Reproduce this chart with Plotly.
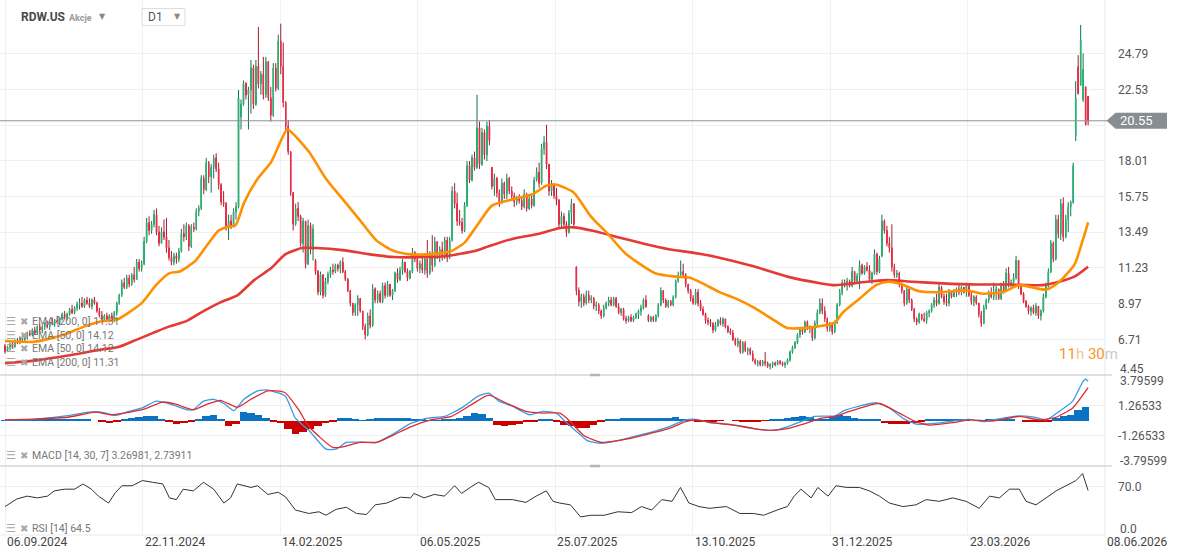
import plotly.graph_objects as go

# ---------------- DATA ----------------
date_labels = ["06.09.2024", "22.11.2024", "14.02.2025", "06.05.2025", "25.07.2025",
               "13.10.2025", "31.12.2025", "23.03.2026", "08.06.2026"]

opens = [
 6.3, 5.95, 6.2, 6.4, 6.25, 6.6, 6.5, 6.8, 6.7, 6.9,
 7.1, 7.0, 7.3, 7.1, 7.5, 7.3, 7.5, 7.6, 7.5, 7.8,
 7.7, 7.9, 7.8, 8.0, 8.3, 8.1, 8.3, 8.6, 8.4, 8.7,
 8.9, 9.0, 8.8, 9.2, 9.0, 8.8, 9.2, 9.0, 8.5, 8.2,
 8.0, 8.2, 7.9, 8.2, 8.0, 8.4, 9.0, 9.5, 10.3, 10.0,
 10.6, 10.2, 10.8, 10.5, 11.6, 11.2, 11.5, 12.9, 14.1, 13.6,
 14.0, 14.6, 13.5, 12.8, 13.5, 13.2, 12.5, 11.9, 11.6, 12.0,
 11.8, 12.3, 13.4, 13.2, 13.9, 12.6, 13.8, 13.7, 14.8, 15.0,
 16.9, 16.2, 17.9, 17.0, 17.6, 18.2, 17.5, 16.5, 15.4, 15.3,
 13.8, 14.2, 13.9, 14.8, 15.1, 20.8, 21.6, 22.9, 22.2, 22.5,
 23.9, 21.6, 24.0, 22.9, 23.5, 22.2, 24.3, 22.0, 20.9, 23.9,
 22.6, 25.6, 24.0, 21.7, 20.2, 18.6, 16.0, 14.0, 15.0, 14.5,
 12.8, 14.2, 11.5, 13.9, 12.4, 11.7, 11.0, 9.7, 10.8, 9.5,
 10.4, 10.8, 11.1, 11.0, 11.4, 11.2, 11.6, 11.0, 10.5, 9.8,
 9.0, 8.4, 8.9, 9.3, 8.5, 7.5, 7.0, 8.2, 7.6, 9.9,
 9.2, 9.6, 9.1, 10.1, 9.5, 10.2, 9.5, 9.8, 10.9, 10.5,
 11.1, 11.6, 11.0, 10.6, 11.0, 12.2, 11.8, 11.2, 11.5, 11.1,
 11.8, 10.9, 12.1, 11.4, 12.9, 12.1, 12.4, 12.0, 13.0, 11.9,
 13.0, 16.1, 15.3, 14.2, 14.1, 13.6, 15.2, 17.7, 16.8, 18.2,
 17.6, 20.1, 17.8, 19.8, 18.4, 20.2, 17.6, 16.4, 16.9, 16.0,
 15.4, 16.6, 15.9, 16.9, 16.1, 15.8, 15.4, 15.6, 15.5, 15.1,
 15.9, 15.0, 15.6, 15.2, 16.8, 17.3, 16.6, 18.8, 19.2, 17.8,
 16.1, 16.5, 15.8, 15.5, 14.0, 14.5, 14.0, 13.5, 14.7, 15.3,
 11.3, 9.8, 9.1, 9.4, 9.0, 9.5, 9.2, 9.3, 8.8, 8.9,
 8.5, 8.2, 8.7, 9.0, 9.2, 8.9, 9.3, 8.8, 8.4, 8.6,
 8.0, 7.9, 8.1, 7.9, 8.1, 8.3, 8.5, 8.7, 9.2, 8.2,
 7.9, 8.1, 7.9, 8.2, 8.9, 9.8, 9.2, 8.8, 9.1, 8.9,
 9.4, 10.4, 10.8, 11.0, 10.8, 10.2, 9.8, 9.3, 9.0, 9.7,
 9.0, 8.6, 8.3, 7.9, 7.8, 7.7, 7.3, 7.6, 7.9, 7.7,
 8.0, 7.5, 7.2, 7.1, 6.7, 6.4, 6.6, 5.9, 6.5, 6.0,
 6.1, 5.8, 5.4, 5.2, 5.3, 5.1, 5.3, 5.2, 5.0, 5.1,
 5.2, 5.1, 5.3, 5.2, 5.1, 5.2, 5.4, 5.9, 6.2, 6.5,
 7.0, 7.3, 7.2, 7.8, 7.4, 7.5, 6.8, 7.7, 8.4, 9.0,
 8.5, 8.0, 7.4, 7.7, 7.2, 7.8, 8.9, 9.7, 10.3, 10.2,
 10.4, 10.1, 11.0, 10.4, 10.7, 11.4, 10.9, 11.3, 11.1, 10.5,
 10.9, 12.1, 11.0, 12.0, 14.2, 13.6, 12.8, 12.5, 11.3, 10.8,
 10.9, 10.2, 9.8, 9.0, 9.9, 9.2, 8.6, 8.0, 7.8, 8.3,
 8.0, 7.9, 8.4, 8.5, 8.9, 9.2, 9.0, 10.0, 9.4, 9.1,
 9.0, 9.7, 9.4, 9.8, 9.9, 9.7, 10.0, 9.7, 10.1, 9.5,
 9.1, 9.4, 9.0, 8.3, 7.7, 8.7, 9.2, 9.6, 9.4, 9.6,
 9.9, 9.3, 10.1, 9.8, 10.9, 10.2, 10.3, 10.6, 11.7, 10.2,
 9.6, 9.1, 8.8, 8.5, 8.7, 8.4, 8.8, 8.2, 8.5, 9.4,
 10.1, 11.0, 12.8, 11.8, 14.3, 13.4, 15.3, 13.2, 14.3, 15.1,
 15.4, 19.6, 23.97, 22.8, 21.9, 22.7, 22.1]

highs = [
 6.4, 6.3, 6.5, 6.6, 6.7, 6.8, 6.9, 7.0, 7.0, 7.2,
 7.3, 7.4, 7.5, 7.6, 7.7, 7.6, 7.8, 7.9, 7.9, 8.1,
 8.0, 8.2, 8.1, 8.4, 8.5, 8.4, 8.7, 8.9, 8.8, 9.1,
 9.3, 9.4, 9.3, 9.4, 9.3, 9.3, 9.4, 9.1, 8.7, 8.5,
 8.3, 8.4, 8.3, 8.4, 8.5, 9.1, 9.6, 10.5, 10.6, 10.8,
 10.8, 10.9, 11.3, 11.8, 11.8, 11.7, 13.2, 14.4, 14.5, 14.2,
 14.9, 15.0, 13.9, 13.8, 14.3, 14.4, 13.0, 12.3, 12.2, 12.2,
 12.5, 13.7, 14.0, 14.1, 14.0, 14.0, 14.1, 15.0, 15.2, 17.1,
 17.1, 18.2, 18.0, 17.8, 18.4, 18.5, 17.9, 16.6, 16.1, 15.4,
 14.6, 14.6, 15.0, 15.4, 22.5, 21.9, 23.1, 23.0, 22.7, 24.4,
 24.1, 24.4, 26.5, 23.7, 24.6, 24.6, 24.3, 22.7, 24.2, 24.2,
 26.0, 26.7, 25.5, 21.8, 20.6, 18.6, 16.0, 15.3, 15.4, 14.6,
 14.4, 14.2, 14.3, 14.1, 14.0, 11.8, 11.1, 11.0, 10.8, 10.6,
 11.0, 11.3, 11.5, 11.5, 11.5, 11.7, 11.9, 11.1, 10.6, 9.8,
 9.0, 9.0, 9.5, 9.3, 8.5, 7.7, 8.4, 8.6, 10.2, 10.0,
 9.8, 9.8, 10.3, 10.3, 10.4, 10.2, 9.9, 11.0, 11.2, 11.3,
 11.8, 11.6, 11.2, 11.1, 12.5, 12.3, 12.0, 11.7, 12.0, 12.0,
 13.0, 12.3, 13.3, 13.2, 12.9, 12.6, 12.9, 13.2, 13.2, 13.2,
 16.4, 16.6, 16.0, 14.9, 14.4, 15.4, 18.0, 18.0, 18.4, 18.6,
 22.2, 20.5, 20.1, 20.0, 20.5, 20.6, 17.6, 17.2, 17.0, 16.2,
 16.9, 16.7, 17.2, 17.0, 16.4, 16.0, 15.8, 15.9, 15.7, 16.2,
 16.0, 15.8, 15.9, 17.0, 17.6, 17.9, 19.1, 19.6, 20.3, 17.8,
 16.8, 16.6, 16.3, 15.6, 14.8, 14.7, 14.2, 14.9, 15.6, 15.3,
 11.3, 10.0, 9.6, 9.6, 9.8, 9.8, 9.5, 9.4, 9.1, 9.0,
 8.6, 8.9, 9.1, 9.4, 9.4, 9.4, 9.4, 9.0, 8.7, 8.7,
 8.2, 8.2, 8.3, 8.2, 8.4, 8.6, 8.9, 9.3, 9.5, 8.3,
 8.2, 8.2, 8.3, 9.0, 10.0, 9.8, 9.3, 9.2, 9.2, 9.5,
 10.5, 11.0, 11.7, 11.5, 10.9, 10.2, 9.9, 9.5, 9.9, 9.9,
 9.2, 8.8, 8.4, 8.1, 8.0, 7.8, 7.8, 8.0, 8.1, 8.1,
 8.0, 7.6, 7.4, 7.3, 6.8, 6.8, 6.7, 6.6, 6.6, 6.2,
 6.2, 6.0, 5.5, 5.4, 5.4, 5.4, 5.9, 5.3, 5.2, 5.3,
 5.3, 5.4, 5.4, 5.3, 5.3, 5.5, 6.0, 6.3, 6.6, 7.1,
 7.5, 7.5, 7.9, 7.9, 7.6, 7.5, 7.9, 8.6, 9.3, 9.3,
 8.8, 8.1, 7.8, 7.8, 7.9, 9.0, 9.9, 10.5, 10.5, 10.6,
 10.5, 11.3, 11.0, 10.9, 11.7, 11.5, 11.4, 11.6, 11.4, 11.0,
 12.4, 12.2, 12.0, 14.6, 14.3, 13.9, 13.2, 14.0, 11.5, 11.1,
 11.0, 10.3, 9.8, 10.1, 10.0, 9.3, 8.7, 8.1, 8.4, 8.3,
 8.4, 8.5, 8.6, 9.0, 9.4, 9.6, 10.2, 10.1, 9.6, 9.6,
 9.9, 9.7, 9.9, 10.0, 10.2, 10.1, 10.0, 10.3, 10.1, 9.7,
 9.5, 9.5, 9.0, 8.5, 8.9, 9.3, 9.8, 10.0, 10.3, 10.1,
 9.9, 10.3, 10.4, 11.2, 11.3, 10.5, 10.9, 12.0, 11.7, 10.2,
 9.7, 9.2, 8.9, 8.8, 8.9, 9.0, 8.8, 8.6, 9.6, 10.3,
 11.2, 13.0, 12.9, 14.6, 14.6, 15.6, 15.7, 14.6, 15.4, 15.5,
 17.9, 23.06, 24.71, 26.62, 24.82, 22.7, 22.1]

lows = [
 5.8, 5.9, 6.0, 6.1, 6.2, 6.4, 6.4, 6.6, 6.5, 6.7,
 6.9, 6.9, 7.0, 7.0, 7.2, 7.1, 7.3, 7.4, 7.3, 7.6,
 7.5, 7.7, 7.6, 7.9, 8.0, 7.9, 8.2, 8.3, 8.3, 8.5,
 8.6, 8.7, 8.7, 8.9, 8.7, 8.6, 8.9, 8.4, 8.1, 7.9,
 7.8, 7.8, 7.8, 7.9, 7.8, 8.2, 8.9, 9.4, 9.9, 9.9,
 10.0, 10.1, 10.3, 10.5, 11.0, 11.0, 11.4, 12.8, 13.3, 13.4,
 13.8, 13.3, 12.6, 12.8, 13.0, 12.2, 11.7, 11.4, 11.4, 11.5,
 11.6, 12.2, 12.9, 13.0, 12.3, 12.5, 13.5, 13.6, 14.5, 14.9,
 15.9, 16.1, 16.6, 16.0, 16.9, 17.3, 16.2, 15.2, 15.1, 13.6,
 13.0, 13.7, 13.8, 14.3, 15.0, 20.0, 21.5, 21.9, 20.0, 21.0,
 21.3, 21.5, 22.6, 22.2, 21.9, 22.0, 21.8, 20.5, 20.8, 22.4,
 22.5, 23.5, 21.4, 19.9, 18.4, 15.8, 13.6, 13.9, 14.2, 12.6,
 12.2, 11.2, 11.4, 12.1, 11.7, 10.8, 9.5, 9.5, 9.3, 9.4,
 10.2, 10.6, 10.8, 10.9, 11.0, 10.9, 10.9, 10.4, 9.7, 8.8,
 8.2, 8.2, 8.2, 8.4, 7.3, 6.7, 6.9, 7.4, 7.5, 9.0,
 9.0, 9.0, 9.0, 9.3, 9.4, 9.4, 9.2, 9.7, 10.3, 10.4,
 10.8, 10.9, 10.4, 10.5, 10.9, 11.6, 11.0, 10.9, 10.9, 10.8,
 10.6, 10.8, 11.0, 11.3, 11.8, 11.6, 11.7, 11.8, 11.6, 11.8,
 12.9, 15.0, 13.9, 13.9, 13.4, 13.5, 15.1, 16.6, 16.7, 17.4,
 17.5, 17.5, 17.7, 18.1, 18.0, 19.0, 16.2, 15.8, 15.7, 15.1,
 15.3, 15.6, 15.6, 15.9, 15.5, 15.1, 15.2, 15.3, 14.9, 15.0,
 14.8, 14.9, 15.0, 15.1, 16.7, 16.3, 16.5, 18.4, 17.5, 15.8,
 15.8, 15.6, 15.2, 13.7, 13.7, 13.8, 13.2, 13.4, 14.0, 13.8,
 9.5, 8.8, 8.7, 8.8, 8.9, 9.0, 9.0, 8.6, 8.5, 8.3,
 8.0, 8.1, 8.6, 8.8, 8.8, 8.8, 8.7, 8.3, 8.2, 7.9,
 7.7, 7.8, 7.8, 7.8, 8.0, 8.0, 8.2, 8.6, 8.7, 7.8,
 7.8, 7.8, 7.8, 8.1, 8.8, 9.0, 8.7, 8.7, 8.8, 8.8,
 9.3, 10.3, 10.6, 10.6, 10.0, 9.6, 9.1, 8.9, 8.9, 8.8,
 8.5, 8.2, 7.7, 7.6, 7.5, 7.1, 7.2, 7.5, 7.6, 7.5,
 7.4, 7.1, 7.0, 6.6, 6.3, 6.2, 5.8, 5.8, 5.9, 5.7,
 5.7, 5.3, 5.1, 5.0, 5.0, 5.0, 5.0, 4.9, 4.8, 4.9,
 5.0, 5.1, 5.1, 5.0, 4.9, 5.1, 5.3, 5.8, 6.1, 6.4,
 6.8, 7.0, 7.1, 7.3, 7.1, 6.6, 6.7, 7.6, 8.3, 8.3,
 7.8, 7.2, 7.2, 7.0, 7.1, 7.7, 8.8, 9.5, 10.0, 9.8,
 10.0, 10.0, 10.2, 10.3, 9.9, 10.8, 10.8, 11.0, 10.3, 10.2,
 10.8, 10.8, 10.9, 11.9, 13.4, 12.6, 12.2, 11.0, 10.6, 10.6,
 10.0, 9.6, 8.8, 8.9, 9.0, 8.5, 7.8, 7.6, 7.7, 7.9,
 7.8, 7.7, 8.1, 8.4, 8.7, 8.8, 8.9, 9.3, 8.9, 8.8,
 8.8, 9.3, 9.4, 9.4, 9.5, 9.5, 9.6, 9.4, 9.4, 8.9,
 8.8, 8.9, 8.1, 7.5, 7.7, 8.6, 9.0, 9.3, 9.2, 9.2,
 9.2, 9.2, 9.6, 9.7, 10.0, 9.9, 10.0, 10.5, 9.9, 9.5,
 9.0, 8.7, 8.3, 8.2, 8.3, 8.2, 8.0, 7.9, 8.4, 9.3,
 10.0, 10.9, 11.6, 11.7, 13.1, 13.0, 12.9, 13.1, 13.5, 14.5,
 15.3, 19.27, 22.2, 22.8, 21.75, 20.27, 20.27]

closes = [
 5.95, 6.2, 6.4, 6.25, 6.6, 6.5, 6.8, 6.7, 6.9, 7.1,
 7.0, 7.3, 7.1, 7.5, 7.3, 7.5, 7.6, 7.5, 7.8, 7.7,
 7.9, 7.8, 8.0, 8.3, 8.1, 8.3, 8.6, 8.4, 8.7, 8.9,
 9.0, 8.8, 9.2, 9.0, 8.8, 9.2, 9.0, 8.5, 8.2, 8.0,
 8.2, 7.9, 8.2, 8.0, 8.4, 9.0, 9.5, 10.3, 10.0, 10.6,
 10.2, 10.8, 10.5, 11.6, 11.2, 11.5, 12.9, 14.1, 13.6, 14.0,
 14.6, 13.5, 12.8, 13.5, 13.2, 12.5, 11.9, 11.6, 12.0, 11.8,
 12.3, 13.4, 13.2, 13.9, 12.6, 13.8, 13.7, 14.8, 15.0, 16.9,
 16.2, 17.9, 17.0, 17.6, 18.2, 17.5, 16.5, 15.4, 15.3, 13.8,
 14.2, 13.9, 14.8, 15.1, 22.0, 21.6, 22.9, 22.2, 22.5, 23.9,
 21.6, 24.0, 22.9, 23.5, 22.2, 24.3, 22.0, 20.9, 23.9, 22.6,
 25.6, 24.0, 21.7, 20.2, 18.6, 16.0, 14.0, 15.0, 14.5, 12.8,
 14.2, 11.5, 13.9, 12.4, 13.7, 11.0, 9.7, 10.8, 9.5, 10.4,
 10.8, 11.1, 11.0, 11.4, 11.2, 11.6, 11.0, 10.5, 9.8, 9.0,
 8.4, 8.9, 9.3, 8.5, 7.5, 7.0, 8.2, 7.6, 9.9, 9.2,
 9.6, 9.1, 10.1, 9.5, 10.2, 9.5, 9.8, 10.9, 10.5, 11.1,
 11.6, 11.0, 10.6, 11.0, 12.2, 11.8, 11.2, 11.5, 11.1, 11.8,
 10.9, 12.1, 11.4, 12.9, 12.1, 12.4, 12.0, 13.0, 11.9, 13.0,
 16.1, 15.3, 14.2, 14.1, 13.6, 15.2, 17.7, 16.8, 18.2, 17.6,
 20.1, 17.8, 19.8, 18.4, 20.2, 19.3, 16.4, 16.9, 16.0, 15.4,
 16.6, 15.9, 16.9, 16.1, 15.8, 15.4, 15.6, 15.5, 15.1, 15.9,
 15.0, 15.6, 15.2, 16.8, 17.3, 16.6, 18.8, 19.2, 17.8, 16.1,
 16.5, 15.8, 15.5, 14.0, 14.5, 14.0, 13.5, 14.7, 15.3, 14.0,
 9.8, 9.1, 9.4, 9.0, 9.5, 9.2, 9.3, 8.8, 8.9, 8.5,
 8.2, 8.7, 9.0, 9.2, 8.9, 9.3, 8.8, 8.4, 8.6, 8.0,
 7.9, 8.1, 7.9, 8.1, 8.3, 8.5, 8.7, 9.2, 8.8, 7.9,
 8.1, 7.9, 8.2, 8.9, 9.8, 9.2, 8.8, 9.1, 8.9, 9.4,
 10.4, 10.8, 11.0, 10.8, 10.2, 9.8, 9.3, 9.0, 9.7, 9.0,
 8.6, 8.3, 7.9, 7.8, 7.7, 7.3, 7.6, 7.9, 7.7, 8.0,
 7.5, 7.2, 7.1, 6.7, 6.4, 6.6, 5.9, 6.5, 6.0, 6.1,
 5.8, 5.4, 5.2, 5.3, 5.1, 5.3, 5.2, 5.0, 5.1, 5.2,
 5.1, 5.3, 5.2, 5.1, 5.2, 5.4, 5.9, 6.2, 6.5, 7.0,
 7.3, 7.2, 7.8, 7.4, 7.5, 6.8, 7.7, 8.4, 9.0, 8.5,
 8.0, 7.4, 7.7, 7.2, 7.8, 8.9, 9.7, 10.3, 10.2, 10.4,
 10.1, 11.0, 10.4, 10.7, 11.4, 10.9, 11.3, 11.1, 10.5, 10.9,
 12.1, 11.0, 11.8, 14.2, 13.6, 12.8, 12.5, 11.3, 10.8, 10.9,
 10.2, 9.8, 9.0, 9.9, 9.2, 8.6, 8.0, 7.8, 8.3, 8.0,
 7.9, 8.4, 8.5, 8.9, 9.2, 9.0, 10.0, 9.4, 9.1, 9.0,
 9.7, 9.4, 9.8, 9.9, 9.7, 10.0, 9.7, 10.1, 9.5, 9.1,
 9.4, 9.0, 8.3, 7.7, 8.7, 9.2, 9.6, 9.4, 9.6, 9.9,
 9.3, 10.1, 9.8, 10.9, 10.2, 10.3, 10.6, 11.7, 10.2, 9.6,
 9.1, 8.8, 8.5, 8.7, 8.4, 8.8, 8.2, 8.5, 9.4, 10.1,
 11.0, 12.8, 11.8, 14.3, 13.4, 15.3, 13.2, 14.3, 15.1, 15.4,
 17.7, 22.0, 22.3, 25.67, 23.8, 20.3, 20.55]

# EMA lines (candle number, value)
ema50_idx = [0, 11.6, 18.5, 25.3, 32.1, 38.9, 45.1, 49.8, 55.3, 60.8, 66.2, 70.3, 76.5, 81.2, 86, 89.4, 92.8,
             96.2, 101.7, 107.2, 113.5, 115.5, 122.3, 129.2, 136, 142.8, 149.6, 156.5, 163.3, 170.1, 176.9,
             179.7, 185.1, 190.6, 196, 204.2, 212.4, 217.9, 222, 229, 235.8, 242.6, 249.4, 254.9, 261.7,
             269.9, 275.4, 280.8, 287.6, 294.5, 301.3, 308.1, 314.9, 321.7, 327.2, 334, 337.2, 343.9, 350.6,
             355.3, 360, 368.1, 377.5, 386.9, 393.6, 401.6, 408.3, 419.1, 424.4, 430.5, 433.8, 436]
ema50_val = [6.6, 6.55, 6.77, 7.1, 7.53, 7.86, 7.96, 8.4, 9.05, 10.14, 10.9, 11.0, 11.66, 12.64, 13.6, 13.83, 13.94,
             15.35, 16.88, 17.96, 19.99, 19.8, 18.6, 16.88, 15.57, 14.27, 12.96, 12.31, 12.09, 12.09, 12.2,
             12.3, 12.85, 14.05, 15.18, 15.57, 15.9, 16.44, 16.5, 16.0, 14.5, 13.4, 12.2, 11.55, 10.9,
             10.68, 10.62, 10.25, 9.7, 9.27, 8.73, 8.07, 7.42, 7.42, 7.53, 7.75, 8.4, 9.27, 10.14,
             10.36, 10.25, 9.75, 9.7, 9.81, 9.6, 9.7, 10.14, 9.86, 10.36, 11.44, 12.96, 14.12]

ema200_idx = [0, 11.6, 25.3, 38.9, 45.7, 52.6, 59.4, 66.2, 73, 79.9, 86.7, 93.5, 100.3, 107.2, 112.8, 119.6,
              125.1, 136, 146.9, 156.5, 170.1, 178.3, 183.8, 189.2, 194.7, 204.2, 215.1, 223, 229, 237.1,
              246.7, 257.6, 267.2, 276.7, 287.6, 301.3, 314.9, 328.6, 334, 343.9, 354.7, 365.4, 377.5, 390.9,
              404.3, 417.7, 424.4, 430.5, 436]
ema200_val = [5.2, 5.36, 5.68, 6.07, 6.22, 6.66, 7.1, 7.53, 7.86, 8.5, 9.05, 9.49, 10.46, 11.22, 12.09, 12.49,
              12.49, 12.36, 12.09, 11.92, 11.92, 11.99, 12.14, 12.3, 12.6, 13.07, 13.4, 13.75, 13.8, 13.57,
              13.18, 12.75, 12.42, 12.2, 11.88, 11.33, 10.68, 10.25, 10.14, 10.3, 10.46, 10.36, 10.25, 10.18,
              10.18, 10.14, 10.36, 10.68, 11.31]

macd_idx = [0, 11.6, 25.3, 33.5, 38.9, 44.4, 49.8, 55.3, 60.8, 64.9, 69, 73, 75.8, 79.9, 84, 88.1, 92.1, 96.2,
            101.7, 105.8, 112.8, 116.9, 122.3, 129.2, 133.3, 137.4, 144.2, 149.6, 156.5, 163.3, 170.1, 176.9,
            183.8, 190.6, 194.7, 198.8, 204.2, 211.1, 216.5, 222, 224.9, 230.3, 234.4, 239.9, 246.7, 253.5,
            260.3, 267.2, 274, 278.1, 283.5, 290.4, 298.5, 304, 309.5, 314.9, 320.4, 325.8, 334, 337.5,
            343.9, 350.6, 356, 361.4, 366.7, 373.4, 381.5, 388.2, 393.6, 401.6, 408.3, 413.7, 419.1, 424.4,
            429.8, 433.8, 435, 436]
macd_val = [0.05, 0.1, 0.4, 0.7, 0.7, 0.42, 0.76, 1.05, 1.62, 1.48, 1.2, 0.9, 0.9, 1.62, 1.77, 1.42, 0.82, 1.77,
            2.48, 2.54, 2.05, 0.19, -0.82, -2.39, -2.39, -1.82, -1.82, -1.82, -1.1, -0.24, 0.19, 0.34,
            1.05, 2.05, 2.28, 1.62, 1.2, 0.48, 0.76, 0.62, 0.05, -0.96, -1.68, -1.9, -1.68, -1.33,
            -0.96, -0.53, 0.05, 0.1, -0.18, -0.3, -0.53, -0.76, -0.82, -0.53, -0.1, 0.34, 0.39, 0.8,
            1.2, 1.48, 1.05, 0.19, -0.3, -0.25, -0.05, 0.1, -0.1, 0.19, 0.39, 0.3, 0.05, 0.76,
            1.62, 3.2, 3.45, 3.27]

signal_idx = [0, 11.6, 25.3, 36.2, 43, 49.8, 55.3, 63.5, 69, 75.8, 81.2, 86.7, 93.5, 99, 105.8, 112.6, 118.2,
              122.3, 131.9, 136, 142.8, 149.6, 156.5, 163.3, 171.5, 179.7, 187.9, 194.7, 201.5, 209.7, 216.5,
              223.3, 226.2, 233, 239.9, 246.7, 253.5, 260.3, 267.2, 274, 278.1, 284.9, 293.1, 301.3, 308.1,
              314.9, 323.1, 328.6, 334, 339, 345.3, 352, 360, 366.7, 372.1, 381.5, 388.2, 397.6, 408.3,
              416.4, 423.1, 429.8, 436]
signal_val = [0.05, 0.12, 0.27, 0.7, 0.48, 0.68, 0.9, 1.54, 1.34, 0.9, 1.34, 1.68, 1.1, 1.77, 2.48, 2.34, 0.9,
              -0.5, -2.25, -2.2, -1.82, -1.82, -1.2, -0.53, 0.05, 0.34, 1.34, 2.11, 1.48, 0.76, 0.62,
              0.62, 0.19, -1.25, -1.82, -1.68, -1.4, -1.05, -0.67, -0.1, 0.05, -0.18, -0.38, -0.67, -0.82,
              -0.67, -0.18, 0.19, 0.34, 0.7, 1.1, 1.42, 0.62, -0.1, -0.38, -0.18, 0.05, -0.05, 0.34,
              0.05, 0.27, 1.05, 2.74]

# MACD histogram, one value every 3 candles
hist_val = [0.02, 0.03, 0.04, 0.06, 0.1, 0.12, 0.13, 0.14, 0.15, 0.14, 0.12, 0.08, 0.0, -0.15, -0.2, -0.1,
            0.15, 0.25, 0.3, 0.4, 0.35, 0.1, -0.1, -0.25, -0.2, -0.05, 0.15, 0.4, 0.45, 0.1, -0.45, -0.3,
            0.75, 0.6, 0.45, 0.2, -0.15, -0.2, -0.7, -1.1, -0.95, -0.7, -0.45, -0.2, -0.05, 0.2, 0.25, 0.05,
            0.02, 0.05, 0.2, 0.22, 0.22, 0.2, 0.18, 0.12, 0.05, 0.03, 0.02, 0.05, 0.1, 0.25, 0.4, 0.6,
            0.55, 0.25, -0.35, -0.45, -0.35, -0.25, -0.12, -0.05, 0.12, 0.1, -0.15, -0.35, -0.5, -0.62, -0.6, -0.4,
            -0.15, 0.08, 0.15, 0.18, 0.2, 0.25, 0.22, 0.2, 0.2, 0.22, 0.3, 0.15, -0.02, -0.05, -0.06, -0.05,
            -0.03, 0.0, -0.04, -0.05, -0.06, -0.05, -0.03, 0.05, 0.1, 0.2, 0.3, 0.4, 0.3, 0.1, 0.15, 0.3,
            0.45, 0.35, 0.2, 0.1, 0.12, 0.15, -0.2, -0.3, -0.3, -0.25, -0.2, -0.05, 0.05, 0.08, 0.1, 0.08,
            0.06, 0.03, 0.0, -0.02, 0.05, 0.1, 0.12, 0.08, 0.0, -0.08, -0.1, -0.1, -0.05, 0.2, 0.35, 0.5,
            0.9, 1.1]

rsi_idx = [0, 4.8, 8.9, 13, 17.1, 19.8, 23.9, 28, 31.4, 34.8, 37.6, 41.7, 44.4, 47.1, 51.2, 55.3, 59.4, 63.5,
           66.2, 69, 71.7, 75.8, 79.9, 84, 88.1, 90.8, 93.5, 99, 101.7, 105.8, 110, 113, 116.9, 122.3, 126.4,
           129.2, 133.3, 137.4, 141.5, 145.5, 149, 153.7, 159.2, 163.3, 164.6, 168.7, 172.8, 176.9, 181,
           183.8, 187.9, 190.6, 194.7, 197.4, 204.2, 209.7, 213.8, 217.9, 220.6, 223.3, 227.6, 231.7, 235.8,
           241.2, 246.7, 252.2, 256.2, 260.3, 264.4, 268.5, 271.9, 275.3, 279.4, 283.5, 290.4, 295.8, 301.3,
           305.4, 310.8, 314.9, 317.7, 320.4, 324.5, 327.2, 331.3, 334.5, 338.6, 343.9, 348, 352, 356, 361.4,
           366.7, 370.8, 376.1, 381.5, 386.9, 392.2, 396.3, 400.3, 404.3, 408.3, 411, 415, 419.1, 423.1,
           427.1, 431.1, 433.8, 436]
rsi_val = [41.2, 52.3, 56.3, 53.8, 56.3, 63.9, 66.4, 66.4, 74, 66.4, 56.3, 46.3, 61.3, 71.4, 71.4, 78.9, 76.4, 74,
           53.8, 51.3, 66.4, 63.9, 76.4, 66.4, 46.3, 53.8, 74, 68.9, 71.4, 58.8, 62, 55, 36.2, 31.2, 33.7,
           28.6, 37.2, 40.2, 31.2, 29.7, 43.7, 46.3, 54.8, 53.8, 60.3, 53.8, 58.8, 56.3, 71.4,
           60.3, 70.4, 76.4, 68.9, 51.3, 51.3, 47.3, 56.3, 63.9, 48.8, 46.3, 43.7, 26.2, 28.6,
           28.6, 33.7, 32.5, 41.2, 36.2, 51.3, 48.8, 68.9, 46.3, 41.2, 38.7, 41.2, 31.2, 31.2,
           28.6, 36.2, 41.2, 56.3, 66.4, 53.8, 68.9, 56.3, 71.4, 69, 68.9, 63.9, 56.3, 46.3, 41.2,
           43.7, 51.3, 48.8, 53.8, 48.8, 38.7, 56.3, 53.8, 66.4, 66.4, 48.8, 43.7, 53.8, 63.9,
           71.4, 78.9, 89, 64.5]

last_price = 20.55
main_ticks = [6.71, 8.97, 11.23, 13.49, 15.75, 18.01, 20.27, 22.53, 24.79]
macd_ticks = [-1.26533, 1.26533]

# ---------------- LAYOUT CONSTANTS ----------------
W, H = 1179, 560
PW = 1105            # plot width in px
PH = 535             # plot height in px
X0, X1 = -2.013, 442.8
TICK_STEP = 55.35
tick_pos = [k * TICK_STEP for k in range(len(date_labels))]
MAIN_RANGE = [4.45, 28.2]
D_MAIN = [1 - 375 / PH, 1]
D_MACD = [1 - 466 / PH, 1 - 375 / PH]
D_RSI = [0, 1 - 466 / PH]

GRID = "#f0f0f0"
G_DARK, G_BRIGHT = "#19714b", "#27b675"
R_DARK, R_BRIGHT = "#a51c2e", "#f22a45"

def px(xp):
    return xp / PW

def py(yp):
    return 1 - yp / PH

idx = list(range(len(closes)))

fig = go.Figure()

# Full candles (wicks, dark)
fig.add_trace(go.Candlestick(
    x=idx, open=opens, high=highs, low=lows, close=closes,
    increasing=dict(line=dict(color=G_DARK, width=1), fillcolor=G_DARK),
    decreasing=dict(line=dict(color=R_DARK, width=1), fillcolor=R_DARK),
    whiskerwidth=0, xaxis="x", yaxis="y", hoverinfo="skip"))
# Bodies (bright)
fig.add_trace(go.Candlestick(
    x=idx, open=opens, close=closes,
    high=[max(o, c) for o, c in zip(opens, closes)],
    low=[min(o, c) for o, c in zip(opens, closes)],
    increasing=dict(line=dict(color=G_BRIGHT, width=1), fillcolor=G_BRIGHT),
    decreasing=dict(line=dict(color=R_BRIGHT, width=1), fillcolor=R_BRIGHT),
    whiskerwidth=0, xaxis="x", yaxis="y", hoverinfo="skip"))

fig.add_trace(go.Scatter(x=ema200_idx, y=ema200_val, mode="lines", xaxis="x", yaxis="y",
                         line=dict(color="#e53935", width=2.6, shape="spline", smoothing=0.6)))
fig.add_trace(go.Scatter(x=ema50_idx, y=ema50_val, mode="lines", xaxis="x", yaxis="y",
                         line=dict(color="#ff9000", width=2.6, shape="spline", smoothing=0.6)))

# MACD
hist_idx = [3 * k for k in range(len(hist_val))]
fig.add_trace(go.Bar(x=hist_idx, y=hist_val, width=3, xaxis="x2", yaxis="y2",
                     marker=dict(color=["#0a74c2" if v >= 0 else "#cc0000" for v in hist_val], line=dict(width=0))))
fig.add_trace(go.Scatter(x=macd_idx, y=macd_val, mode="lines", xaxis="x2", yaxis="y2",
                         line=dict(color="#3a9be6", width=1.3, shape="spline", smoothing=0.5)))
fig.add_trace(go.Scatter(x=signal_idx, y=signal_val, mode="lines", xaxis="x2", yaxis="y2",
                         line=dict(color="#e02b2b", width=1.3, shape="spline", smoothing=0.5)))

# RSI
fig.add_trace(go.Scatter(x=rsi_idx, y=rsi_val, mode="lines", xaxis="x3", yaxis="y3",
                         line=dict(color="#333333", width=1)))

xcommon = dict(range=[X0, X1], tickmode="array", tickvals=tick_pos, showticklabels=False,
               showgrid=True, gridcolor=GRID, gridwidth=1, zeroline=False, showline=False, ticks="",
               fixedrange=True)
ycommon = dict(side="right", showgrid=True, gridcolor=GRID, gridwidth=1, zeroline=False, showline=False,
               ticks="", tickfont=dict(family="Roboto", size=12, color="#555555"), ticklabelstandoff=12,
               fixedrange=True)

main_text = ["" if abs(v - 20.27) < 0.01 else f"{v:.2f}" for v in main_ticks]

fig.update_layout(
    width=W, height=H, margin=dict(l=0, r=W - PW, t=0, b=H - PH),
    paper_bgcolor="white", plot_bgcolor="white", showlegend=False,
    font=dict(family="Roboto", color="#555555"),
    bargap=0, boxgap=0.75,
    xaxis=dict(**xcommon, anchor="y", domain=[0, 1], rangeslider=dict(visible=False)),
    xaxis2=dict(**xcommon, anchor="y2", domain=[0, 1], matches="x"),
    xaxis3=dict(**xcommon, anchor="y3", domain=[0, 1], matches="x"),
    yaxis=dict(**ycommon, anchor="x", domain=D_MAIN, range=MAIN_RANGE, tickmode="array",
               tickvals=main_ticks, ticktext=main_text),
    yaxis2=dict(**ycommon, anchor="x2", domain=D_MACD, range=[-3.79599, 3.79599], tickmode="array",
                tickvals=macd_ticks, ticktext=[f"{v:.5f}" for v in macd_ticks]),
    yaxis3=dict(**ycommon, anchor="x3", domain=D_RSI, range=[0, 100], tickmode="array",
                tickvals=[70], ticktext=["70.0"]),
)

shapes = []
# pane separators
for yy in (375, 466):
    shapes.append(dict(type="line", xref="paper", yref="paper", x0=0, x1=px(1112), y0=py(yy), y1=py(yy),
                       line=dict(color="#d6d6d6", width=1.5), layer="above"))
    shapes.append(dict(type="line", xref="paper", yref="paper", x0=px(590), x1=px(600), y0=py(yy), y1=py(yy),
                       line=dict(color="#b5b5b5", width=2.5), layer="above"))
# right edge and bottom
shapes.append(dict(type="line", xref="paper", yref="paper", x0=1, x1=1, y0=0, y1=1,
                   line=dict(color="#e9e9e9", width=1), layer="below"))
shapes.append(dict(type="line", xref="paper", yref="paper", x0=0, x1=1, y0=0, y1=0,
                   line=dict(color="#e9e9e9", width=1), layer="below"))
# current price line + tag
half = 8 / (375 / (MAIN_RANGE[1] - MAIN_RANGE[0]))
shapes.append(dict(type="line", xref="paper", yref="y", x0=0, x1=px(1107), y0=last_price, y1=last_price,
                   line=dict(color="#8b9295", width=1)))
shapes.append(dict(type="path", xref="paper", yref="y", fillcolor="#868e91", line=dict(width=0),
                   path=(f"M {px(1106.5)},{last_price} L {px(1115.5)},{last_price + half} "
                         f"L {px(1167)},{last_price + half} L {px(1167)},{last_price - half} "
                         f"L {px(1115.5)},{last_price - half} Z")))
# D1 box
shapes.append(dict(type="rect", xref="paper", yref="paper", x0=px(142), x1=px(185), y0=py(25.5), y1=py(8.5),
                   fillcolor="white", line=dict(color="#dddddd", width=1)))
fig.update_layout(shapes=shapes)

ann = []
def text(x, y, s, size=12, color="#555555", family="Roboto", xanchor="left", xref="paper", yref="paper"):
    ann.append(dict(x=x, y=y, xref=xref, yref=yref, text=s, showarrow=False, xanchor=xanchor,
                    yanchor="middle", font=dict(family=family, size=size, color=color)))

# header
text(px(19), py(17.5), "<b>RDW.US</b>", size=12, color="#4a4a4a")
text(px(67), py(18.5), "<b>Akcje</b>", size=9, color="#9a9a9a")
text(px(97), py(16.5), "▼", size=8, color="#8a8a8a", family="DejaVu Sans")
text(px(146), py(17.5), "D1", size=12, color="#555555")
text(px(172), py(16.5), "▼", size=8, color="#8a8a8a", family="DejaVu Sans")

# indicator labels
for yy, label in [(321.5, "EMA [200, 0] 11.31"), (335.2, "EMA [50, 0] 14.12"),
                  (348.9, "EMA [50, 0] 14.12"), (362.6, "EMA [200, 0] 11.31"),
                  (455, "MACD [14, 30, 7] 3.26981, 2.73911"), (528.5, "RSI [14] 64.5")]:
    text(px(4), py(yy), "☰", size=11, color="#a8a8a8", family="DejaVu Sans")
    text(px(18), py(yy), "✖", size=10, color="#a8a8a8", family="DejaVu Sans")
    text(px(30), py(yy), label, size=10.5, color="#777777")

# edge labels of right axes
text(px(1118), py(369), "4.45", size=12)
text(px(1118), py(381), "3.79599", size=12)
text(px(1118), py(461), "-3.79599", size=12)
text(px(1118), py(529), "0.0", size=12)
# price tag text
text(px(1118), last_price, "20.55", size=13, color="white", yref="y")
# countdown
text(px(1057), py(354),
     '<span style="color:#f7941d">11</span><span style="color:#f8c48c">h</span> '
     '<span style="color:#f7941d">30</span><span style="color:#cccccc">m</span>', size=15)
# date labels
for pos, lab in zip(tick_pos, date_labels):
    text(pos, py(542), lab, size=12, color="#444444", xref="x3")

fig.update_layout(annotations=ann)
fig.write_html("out.html")
